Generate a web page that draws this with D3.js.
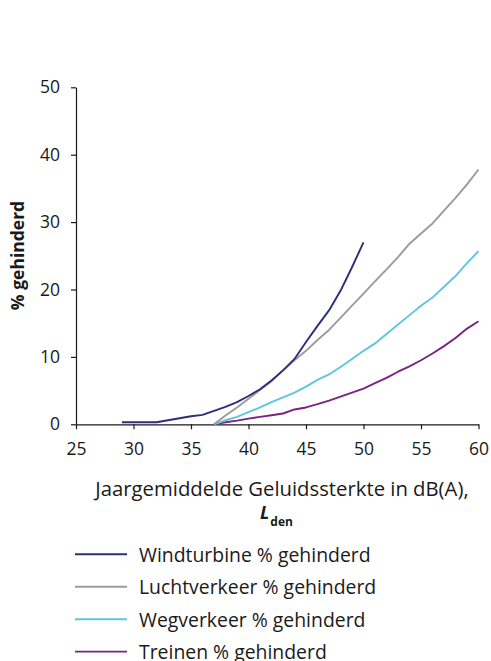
<!DOCTYPE html>
<html><head><meta charset="utf-8">
<script src="https://cdn.jsdelivr.net/npm/d3@7"></script>
<style>
html,body{margin:0;padding:0;background:#fff;}
svg{display:block;}
text{font-family:"Open Sans","Noto Sans",sans-serif;fill:#1a1a1a;}
</style></head>
<body>
<svg id="chart" width="491" height="661"></svg>
<script>
const windX = [29,30,31,32,33,34,35,36,37,38,39,40,41,42,43,44,45,46,47,48,49,50];
const windY = [0.3,0.3,0.3,0.3,0.6,0.9,1.2,1.4,2.0,2.6,3.3,4.2,5.2,6.5,8.0,9.7,12.2,14.6,16.9,19.8,23.3,27.0];
const otherX = [37,38,39,40,41,42,43,44,45,46,47,48,49,50,51,52,53,54,55,56,57,58,59,60];
const luchtY = [0,1.3,2.5,3.8,5.1,6.4,8.0,9.5,10.9,12.5,14.0,15.8,17.6,19.4,21.2,23.0,24.8,26.8,28.3,29.8,31.7,33.6,35.6,37.8];
const wegY = [0,0.6,1.1,1.8,2.5,3.3,4.0,4.7,5.6,6.6,7.4,8.5,9.7,10.9,12.0,13.4,14.8,16.2,17.6,18.8,20.4,22.0,23.9,25.7];
const treinY = [0,0.3,0.55,0.85,1.1,1.35,1.6,2.2,2.5,3.0,3.5,4.1,4.7,5.3,6.1,6.9,7.8,8.6,9.5,10.5,11.6,12.8,14.2,15.3];
const seriesNames = ["Windturbine % gehinderd","Luchtverkeer % gehinderd","Wegverkeer % gehinderd","Treinen % gehinderd"];
const seriesColors = ["#2b2e78","#9b9b9b","#5ec6de","#7a2382"];
const xTicks = [25,30,35,40,45,50,55,60];
const yTicks = [0,10,20,30,40,50];

const series = [
  {name: seriesNames[0], color: seriesColors[0], pts: windX.map((x,i)=>[x, windY[i]])},
  {name: seriesNames[1], color: seriesColors[1], pts: otherX.map((x,i)=>[x, luchtY[i]])},
  {name: seriesNames[2], color: seriesColors[2], pts: otherX.map((x,i)=>[x, wegY[i]])},
  {name: seriesNames[3], color: seriesColors[3], pts: otherX.map((x,i)=>[x, treinY[i]])}
];

const svg = d3.select("#chart");
const x = d3.scaleLinear().domain([25,60]).range([76,478.5]);
const y = d3.scaleLinear().domain([0,50]).range([424.3,87.3]);

const xAxis = svg.append("g").attr("transform","translate(0,424.3)")
  .call(d3.axisBottom(x).tickValues(xTicks).tickSize(5).tickPadding(13).tickSizeOuter(0));
const yAxis = svg.append("g").attr("transform","translate(76,0)")
  .call(d3.axisLeft(y).tickValues(yTicks).tickSize(5).tickPadding(11).tickSizeOuter(0));
[xAxis,yAxis].forEach(a=>{
  a.selectAll(".domain").attr("stroke","#1a1a1a").attr("stroke-width",1.2);
  a.selectAll(".tick line").attr("stroke","#1a1a1a").attr("stroke-width",1.2);
  a.selectAll(".tick text").attr("font-family","'Open Sans',sans-serif").attr("font-size",17.5).attr("fill","#1a1a1a");
});

const line = d3.line().x(d=>x(d[0])).y(d=>y(d[1]));
series.slice().reverse().forEach(s=>{
  svg.append("path").datum(s.pts).attr("d",line)
    .attr("fill","none").attr("stroke",s.color).attr("stroke-width",1.9)
    .attr("stroke-linejoin","round");
});

svg.append("text").attr("transform","translate(24,255.5) rotate(-90)")
  .attr("text-anchor","middle").attr("font-weight","bold").attr("font-size",17.5)
  .text("% gehinderd");

svg.append("text").attr("x",282).attr("y",495.7).attr("text-anchor","middle")
  .attr("font-size",20.3).text("Jaargemiddelde Geluidssterkte in dB(A),");
const lt = svg.append("text").attr("x",260).attr("y",519);
lt.append("tspan").attr("font-weight","bold").attr("font-style","italic").attr("font-size",18).text("L");
lt.append("tspan").attr("font-weight","bold").attr("font-size",12).attr("dy",7).attr("dx",1).text("den");

const leg = svg.append("g");
series.forEach((s,i)=>{
  const yy = 554.3 + i*32.45;
  leg.append("line").attr("x1",75).attr("x2",127).attr("y1",yy).attr("y2",yy)
    .attr("stroke",s.color).attr("stroke-width",1.9);
  leg.append("text").attr("x",139).attr("y",yy+7.4).attr("font-size",19.4).text(s.name);
});
</script>
</body></html>
